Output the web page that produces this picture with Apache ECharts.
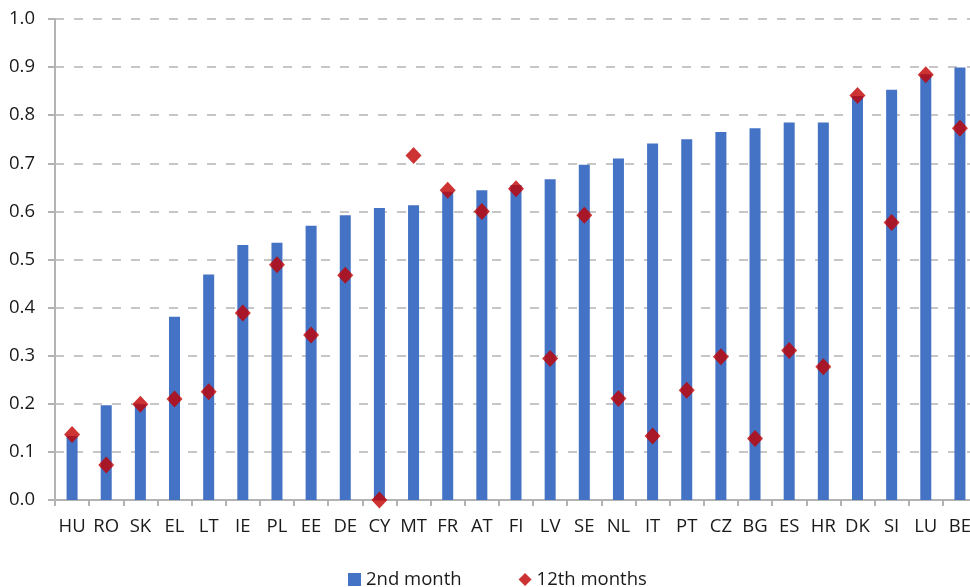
<!DOCTYPE html>
<html>
<head>
<meta charset="utf-8">
<script src="https://cdn.jsdelivr.net/npm/echarts@6/dist/echarts.min.js"></script>
<style>
html,body{margin:0;padding:0;background:#fff;}
#chart{width:970px;height:587px;}
</style>
</head>
<body>
<div id="chart"></div>
<script>
var categories = ["HU","RO","SK","EL","LT","IE","PL","EE","DE","CY","MT","FR","AT","FI","LV","SE","NL","IT","PT","CZ","BG","ES","HR","DK","SI","LU","BE"];
var month2 = [0.133,0.197,0.199,0.381,0.469,0.530,0.535,0.570,0.592,0.607,0.613,0.641,0.644,0.655,0.667,0.697,0.710,0.741,0.750,0.765,0.773,0.785,0.785,0.840,0.853,0.885,0.899];
var month12 = [0.136,0.073,0.199,0.210,0.225,0.389,0.489,0.343,0.467,0.000,0.716,0.644,0.600,0.647,0.294,0.592,0.211,0.133,0.228,0.298,0.128,0.311,0.277,0.841,0.577,0.884,0.773];
var seriesNames = ["2nd month","12th months"];

var FONT = "Open Sans";
var chart = echarts.init(document.getElementById('chart'), null, {renderer:'canvas'});
chart.setOption({
  animation:false,
  backgroundColor:'#ffffff',
  textStyle:{fontFamily:FONT},
  grid:{left:55, top:19, right:-7, bottom:87, containLabel:false, outerBoundsMode:'none'},
  legend:{
    left:343, top:565,
    itemWidth:13, itemHeight:13, itemGap:57,
    textStyle:{fontFamily:FONT, fontSize:18.5, color:'#1a1a1a'},
    data:[{name:seriesNames[0], icon:'rect'},{name:seriesNames[1], icon:'diamond', itemStyle:{color:'#c00000'}}]
  },
  xAxis:{
    type:'category', data:categories,
    boundaryGap:true,
    axisLine:{lineStyle:{color:'#b3b3b3', width:2}},
    axisTick:{show:true, length:6, alignWithLabel:false, lineStyle:{color:'#b3b3b3', width:2}},
    axisLabel:{interval:0, margin:17, fontFamily:FONT, fontSize:18.5, color:'#1a1a1a', hideOverlap:false},
    splitLine:{show:false}
  },
  yAxis:{
    type:'value', min:0, max:1, interval:0.1,
    axisLine:{show:true, lineStyle:{color:'#b3b3b3', width:2}},
    axisTick:{show:true, length:7, lineStyle:{color:'#b3b3b3', width:2}},
    axisLabel:{margin:20, fontFamily:FONT, fontSize:18.5, color:'#1a1a1a', formatter:function(v){return v.toFixed(1);}},
    splitLine:{show:true, lineStyle:{color:'#c6c6c6', width:2, type:[9,10]}}
  },
  series:[
    {name:seriesNames[0], type:'bar', data:month2, barWidth:11, itemStyle:{color:'#4472c4'}, z:2},
    {name:seriesNames[1], type:'scatter', data:month12, symbol:'diamond', symbolSize:[16,17], itemStyle:{color:'#c00000'}, z:3}
  ]
});
</script>
</body>
</html>
